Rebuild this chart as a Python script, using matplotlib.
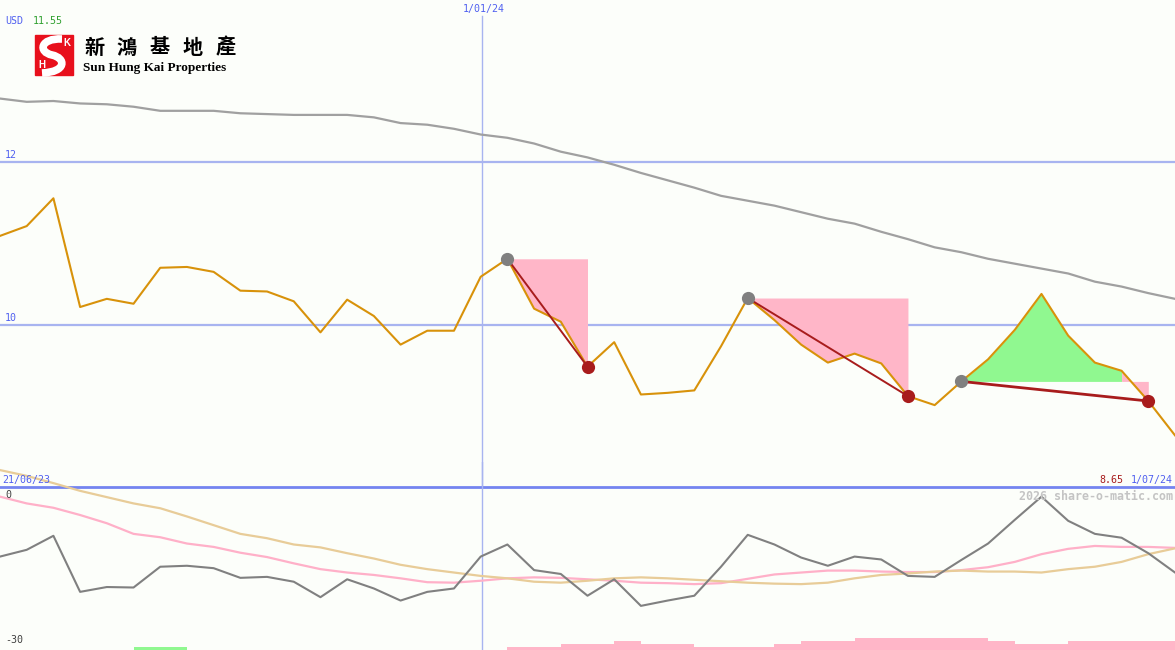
import matplotlib
matplotlib.use("Agg")
import matplotlib.pyplot as plt
import matplotlib.transforms as mtransforms
from matplotlib.patches import Rectangle, PathPatch
from matplotlib.path import Path


# CHART DATA (weekly points, index 0 .. 44)

start_date = "21/06/23"
end_date = "1/07/24"
mid_date = "1/01/24"
mid_pos = 18.05          # position of 1/01/24 on the index axis

price = [11.09, 11.21, 11.55, 10.22, 10.32, 10.26, 10.70, 10.71, 10.65, 10.42,
         10.41, 10.29, 9.91, 10.31, 10.11, 9.76, 9.93, 9.93, 10.59, 10.81,
         10.20, 10.04, 9.49, 9.79, 9.15, 9.17, 9.20, 9.74, 10.33, 10.06,
         9.76, 9.54, 9.65, 9.53, 9.13, 9.02, 9.31, 9.58, 9.94, 10.38,
         9.87, 9.54, 9.44, 9.07, 8.65]

long_ma = [12.77, 12.73, 12.74, 12.71, 12.70, 12.67, 12.62, 12.62, 12.62, 12.59,
           12.58, 12.57, 12.57, 12.57, 12.54, 12.47, 12.45, 12.40, 12.33, 12.29,
           12.22, 12.12, 12.05, 11.96, 11.86, 11.77, 11.68, 11.58, 11.52, 11.46,
           11.38, 11.30, 11.24, 11.14, 11.05, 10.95, 10.89, 10.81, 10.75, 10.69,
           10.63, 10.53, 10.47, 10.39, 10.32]

osc = [-11.5, -10.1, -7.2, -18.8, -17.8, -17.9, -13.6, -13.4, -13.9, -15.9,
       -15.7, -16.7, -19.9, -16.2, -18.1, -20.6, -18.8, -18.1, -11.5, -9.0,
       -14.3, -15.1, -19.6, -16.2, -21.7, -20.6, -19.6, -13.6, -7.0, -9.0,
       -11.7, -13.4, -11.5, -12.1, -15.5, -15.7, -12.2, -8.8, -3.9, 0.9,
       -4.1, -6.8, -7.6, -10.8, -14.8]

osc_fast = [0.9, -0.5, -1.4, -2.9, -4.6, -6.8, -7.5, -8.8, -9.5, -10.7,
            -11.6, -12.9, -14.1, -14.8, -15.3, -16.0, -16.8, -16.9, -16.5, -16.0,
            -15.8, -15.9, -16.2, -16.5, -16.9, -17.0, -17.2, -17.0, -16.1, -15.2,
            -14.8, -14.4, -14.4, -14.6, -14.7, -14.7, -14.3, -13.7, -12.6, -11.0,
            -9.9, -9.3, -9.5, -9.5, -9.7]

osc_slow = [6.4, 5.2, 3.7, 2.1, 0.8, -0.5, -1.5, -3.2, -5.0, -6.8,
            -7.7, -9.0, -9.6, -10.8, -11.9, -13.2, -14.1, -14.8, -15.5, -16.0,
            -16.7, -16.9, -16.5, -16.0, -15.8, -16.0, -16.3, -16.6, -16.9, -17.1,
            -17.2, -16.9, -16.0, -15.3, -15.0, -14.6, -14.4, -14.6, -14.6, -14.8,
            -14.1, -13.6, -12.6, -11.0, -9.8]

# one bar per interval: + green, - pink
bar_level = [0, 0, 0, 0, 0, 1, 1, 0, 0, 0, 0, 0, 0, 0, 0, 0, 0, 0, 0,
             -1, -1, -2, -2, -3, -2, -2, -1, -1, -1, -2, -3, -3,
             -4, -4, -4, -4, -4, -3, -2, -2, -3, -3, -3, -3]

price_levels = [10, 12]
osc_levels = [0, -30]
max_price = "11.55"
last_price = "8.65"

# swings: (peak index, trough index)
swings = [(19, 22), (28, 34), (36, 43)]


# COLOURS AND FONTS

BG = "#fcfefa"
BLUE_TXT = "#5060f0"
GRID = "#a8b4f0"
SEP = "#7484f0"
ORANGE = "#d8920a"
DARKRED = "#a81c1c"
PINK = "#ffb6c8"
GREEN = "#90f890"
MONO = "DejaVu Sans Mono"
FS = 7.2

W, H = 1175, 650
fig = plt.figure(figsize=(W / 100, H / 100), dpi=100, facecolor=BG)

# upper panel: pixel rows 0..487
ax = fig.add_axes([0, 1 - 487 / H, 1, 487 / H])
ax.set_facecolor("none")
ax.set_xlim(0, 44)
ax.set_ylim(12 - 325.5 / 81.75, 12 + 161.5 / 81.75)
ax.set_xticks([])
ax.set_yticks([])
for s in ["top", "left", "right"]:
    ax.spines[s].set_visible(False)
ax.spines["bottom"].set_color(SEP)
ax.spines["bottom"].set_linewidth(2)

# lower panel: pixel rows 462..650
bx = fig.add_axes([0, 0, 1, 188 / H])
bx.set_facecolor("none")
bx.set_xlim(0, 44)
bx.set_ylim(-30.83, 8.07)
bx.axis("off")

xs = list(range(len(price)))
ytrans = mtransforms.blended_transform_factory(ax.transAxes, ax.transData)
btrans = mtransforms.blended_transform_factory(bx.transAxes, bx.transData)

# GRID LINES

for lv in price_levels:
    ax.axhline(lv, color=GRID, lw=1.6, zorder=1)
    ax.text(5 / W, lv + 0.02, str(lv), transform=ytrans, color=BLUE_TXT,
            fontsize=FS, family=MONO, va="bottom", ha="left")

ax.axvline(mid_pos, ymax=1 - 16 / 487, color=GRID, lw=1, zorder=1)
bx.axvline(mid_pos, color=GRID, lw=1, zorder=1)

# SWING FILLS

for s, e in swings:
    base = price[s]
    j = s
    for k in range(s, e + 1):
        if price[k] >= base:
            j = k
    if j > s:
        ax.fill_between(xs[s:j + 1], price[s:j + 1], base, color=GREEN,
                        lw=0, zorder=2)
    ax.fill_between(xs[j:e + 1], price[j:e + 1], base, color=PINK,
                    lw=0, zorder=2)

# PRICE AND AVERAGE

ax.plot(xs, long_ma, color="#a0a0a0", lw=1.6, zorder=3)
ax.plot(xs, price, color=ORANGE, lw=1.5, zorder=4)

for n, (s, e) in enumerate(swings):
    ax.plot([s, e], [price[s], price[e]], color=DARKRED,
            lw=1.4 if n < 2 else 2.0, zorder=5)
    ax.plot(s, price[s], "o", color="#808080", ms=9.5, mec="none", zorder=6)
    ax.plot(e, price[e], "o", color=DARKRED, ms=9.5, mec="none", zorder=6)

# LOWER PANEL

for k, lv in enumerate(bar_level):
    if lv != 0:
        bx.bar(k, abs(lv) * 0.62, width=1, bottom=-30.83, align="edge",
               color=GREEN if lv > 0 else PINK, lw=0, zorder=1)

bx.plot(xs, osc, color="#808080", lw=1.5, zorder=3)
bx.plot(xs, osc_fast, color="#ffb0c8", lw=1.6, zorder=2)
bx.plot(xs, osc_slow, color="#e8cc98", lw=1.6, zorder=2)

for lv in osc_levels:
    bx.text(5 / W, lv + 0.2, str(lv), transform=btrans, color="#404040",
            fontsize=FS, family=MONO, va="bottom", ha="left")

# LABELS

def fx(px):
    return px / W

def fy(py):
    return 1 - py / H

fig.text(fx(5), fy(21), "USD", color=BLUE_TXT, fontsize=FS, family=MONO,
         va="center", ha="left")
fig.text(fx(33), fy(21), max_price, color="#30a030", fontsize=FS,
         family=MONO, va="center", ha="left")
fig.text(fx(484), fy(9), mid_date, color=BLUE_TXT, fontsize=FS, family=MONO,
         va="center", ha="center")
fig.text(fx(2), fy(480), start_date, color=BLUE_TXT, fontsize=FS, family=MONO,
         va="center", ha="left")
fig.text(fx(1173), fy(480), end_date, color=BLUE_TXT, fontsize=FS,
         family=MONO, va="center", ha="right")
fig.text(fx(1123), fy(480), last_price, color=DARKRED, fontsize=FS,
         family=MONO, va="center", ha="right")
fig.text(fx(1173), fy(496), "2026 share-o-matic.com", color="#c4c4c4",
         fontsize=8.4, family=MONO, weight="bold", va="center", ha="right")

# LOGO

fig.patches.append(Rectangle((fx(35), fy(75)), fx(38), 40 / H,
                             transform=fig.transFigure, color="#e8101c",
                             zorder=1))
swoosh = [(62, 39), (40, 38), (38, 52), (52, 55),
          (66, 58), (67, 72), (42, 73)]
swoosh = [(fx(x), fy(y)) for x, y in swoosh]
codes = [Path.MOVETO, Path.CURVE4, Path.CURVE4, Path.CURVE4,
         Path.CURVE4, Path.CURVE4, Path.CURVE4]
fig.patches.append(PathPatch(Path(swoosh, codes), transform=fig.transFigure,
                             fc="none", ec="white", lw=5.5, zorder=2))
fig.text(fx(67), fy(43), "K", color="white", fontsize=7, weight="bold",
         family="Liberation Sans", va="center", ha="center", zorder=3)
fig.text(fx(42), fy(65), "H", color="white", fontsize=7, weight="bold",
         family="Liberation Sans", va="center", ha="center", zorder=3)

for cx, ch in zip([94.5, 126.5, 160, 193, 225.5], "新鴻基地產"):
    fig.text(fx(cx), fy(47), ch, color="black", fontsize=14.5, weight="bold",
             family=["Noto Sans CJK TC", "DejaVu Sans"], va="center",
             ha="center")
fig.text(fx(83), fy(68), "Sun Hung Kai Properties", color="black",
         fontsize=9.5, weight="bold", family="Liberation Serif", va="center",
         ha="left")

fig.savefig("out.png", dpi=100, facecolor=BG)
